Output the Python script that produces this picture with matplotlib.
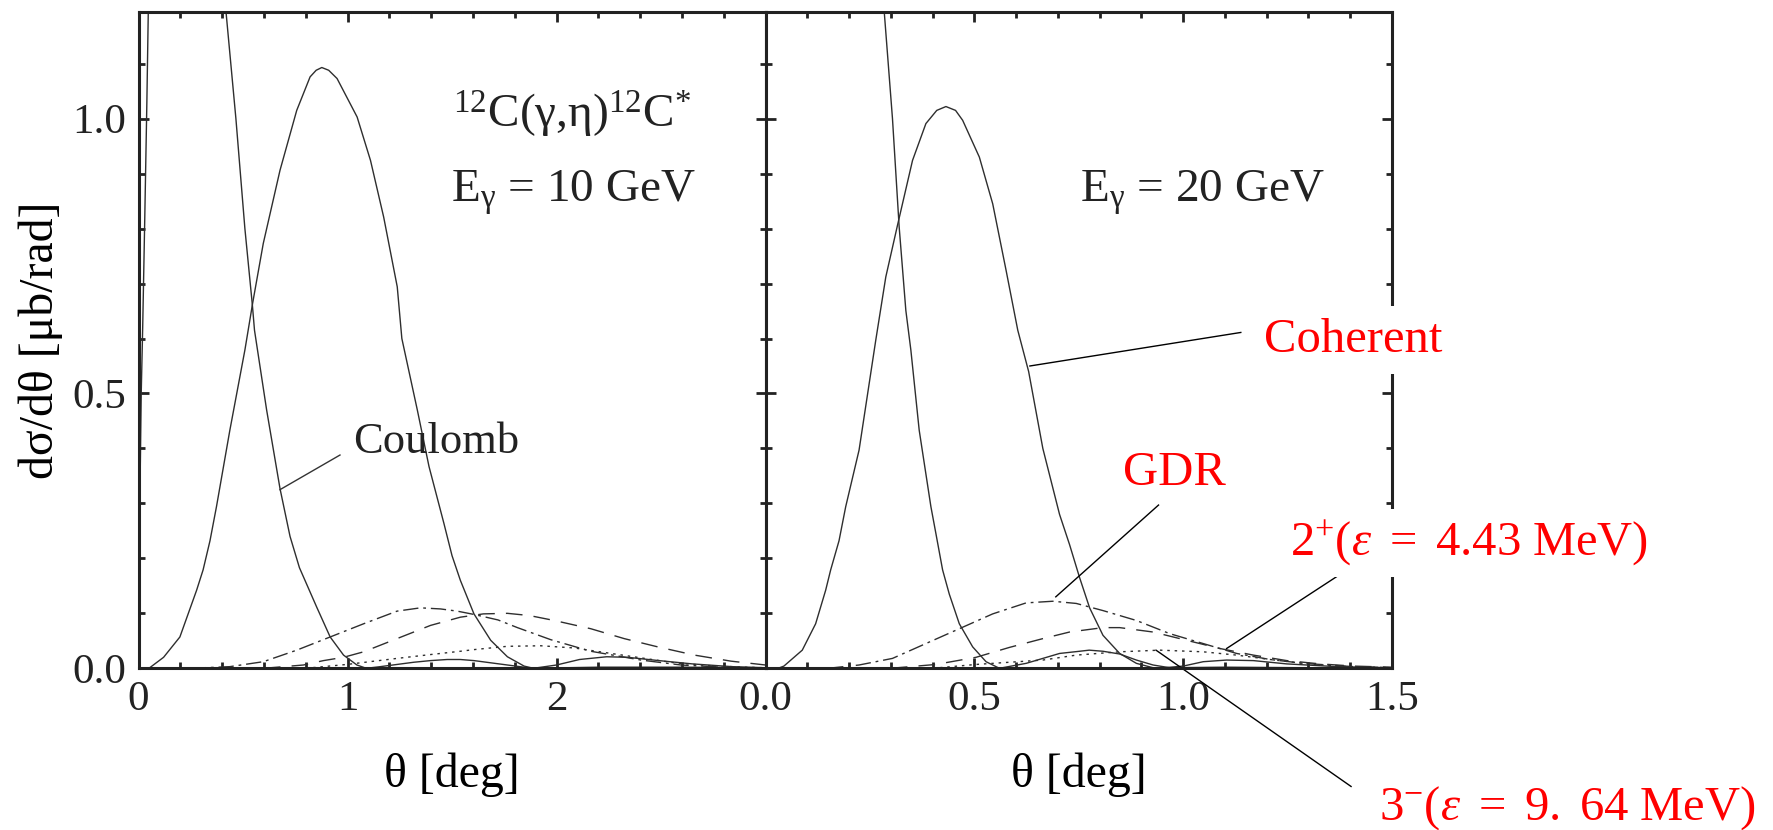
import matplotlib
matplotlib.use("Agg")
import matplotlib.pyplot as plt
from matplotlib.ticker import MultipleLocator, FixedLocator, FixedFormatter

plt.rcParams['font.family'] = ['Liberation Serif', 'DejaVu Serif']
plt.rcParams['mathtext.fontset'] = 'custom'
plt.rcParams['mathtext.rm'] = 'Liberation Serif'
plt.rcParams['mathtext.it'] = 'Liberation Serif:italic'
plt.rcParams['mathtext.bf'] = 'Liberation Serif:bold'

# ---------------- data: E_gamma = 10 GeV (left) ----------------
coh10_t = [0.0, 0.05, 0.12, 0.198, 0.278, 0.309, 0.342, 0.373, 0.437, 0.509, 0.546, 0.597, 0.677,
           0.757, 0.821, 0.85, 0.877, 0.91, 0.95, 1.046, 1.11, 1.173, 1.238, 1.26, 1.334, 1.39, 1.461,
           1.5, 1.54, 1.605, 1.685, 1.765, 1.845, 1.89, 2.0, 2.11, 2.24, 2.34, 2.49, 2.65, 2.84, 3.0]
coh10_v = [0.0, 0.0, 0.02, 0.057, 0.142, 0.179, 0.232, 0.294, 0.433, 0.579, 0.664, 0.773, 0.906,
           1.015, 1.076, 1.088, 1.093, 1.088, 1.073, 1.003, 0.924, 0.821, 0.694, 0.60, 0.47, 0.367, 0.264,
           0.205, 0.16, 0.099, 0.051, 0.021, 0.004, 0.0, 0.006, 0.016, 0.021, 0.02, 0.014, 0.008, 0.003, 0.001]

coul10_t = [0.0, 0.003, 0.008, 0.013, 0.02, 0.03, 0.04, 0.047, 0.055, 0.38, 0.418, 0.466, 0.509, 0.545,
            0.555, 0.613, 0.677, 0.725, 0.77, 0.853, 0.917, 0.981, 1.045, 1.09, 1.157, 1.237, 1.317,
            1.397, 1.477, 1.54, 1.605, 1.685, 1.765, 1.845, 1.88, 2.2, 2.6, 3.0]
coul10_v = [0.0, 0.15, 0.35, 0.5, 0.62, 0.82, 1.03, 1.2, 1.4, 1.36, 1.197, 1.0, 0.8, 0.66,
            0.615, 0.47, 0.327, 0.24, 0.183, 0.111, 0.057, 0.024, 0.006, 0.0, 0.003, 0.007, 0.011,
            0.014, 0.016, 0.016, 0.014, 0.01, 0.006, 0.002, 0.0, 0.002, 0.002, 0.001]

gdr10_t = [0.25, 0.437, 0.597, 0.757, 0.917, 1.077, 1.237, 1.349, 1.445, 1.525, 1.605, 1.72, 1.813,
           1.973, 2.164, 2.404, 2.596, 2.8, 3.0]
gdr10_v = [0.0, 0.003, 0.012, 0.033, 0.057, 0.081, 0.104, 0.11, 0.108, 0.104, 0.098, 0.088, 0.074,
           0.052, 0.031, 0.015, 0.006, 0.002, 0.0]

e2_10_t = [0.6, 0.789, 0.885, 0.981, 1.077, 1.237, 1.397, 1.54, 1.65, 1.765, 1.87, 1.989, 2.164,
           2.324, 2.484, 2.66, 2.835, 3.0]
e2_10_v = [0.0, 0.006, 0.014, 0.02, 0.03, 0.054, 0.078, 0.093, 0.099, 0.1, 0.096, 0.087, 0.072,
           0.054, 0.039, 0.024, 0.013, 0.006]

e3_10_t = [0.8, 0.997, 1.237, 1.397, 1.54, 1.605, 1.765, 1.925, 2.085, 2.244, 2.404, 2.564, 2.724, 2.9, 3.0]
e3_10_v = [0.0, 0.007, 0.018, 0.025, 0.031, 0.034, 0.04, 0.041, 0.037, 0.028, 0.019, 0.01, 0.005, 0.002, 0.001]

# ---------------- data: E_gamma = 20 GeV (right) ----------------
coh20_t = [0.0, 0.03, 0.044, 0.088, 0.12, 0.144, 0.156, 0.176, 0.192, 0.224, 0.264, 0.288, 0.316,
           0.352, 0.384, 0.41, 0.432, 0.455, 0.472, 0.512, 0.544, 0.576, 0.604, 0.63, 0.664, 0.704,
           0.728, 0.752, 0.776, 0.808, 0.848, 0.888, 0.928, 0.94, 1.0, 1.048, 1.104, 1.168, 1.248,
           1.368, 1.5]
coh20_v = [0.0, 0.0, 0.004, 0.033, 0.081, 0.142, 0.179, 0.232, 0.294, 0.397, 0.597, 0.712, 0.806,
           0.924, 0.991, 1.015, 1.022, 1.015, 0.997, 0.93, 0.845, 0.724, 0.615, 0.54, 0.40, 0.28,
           0.225, 0.165, 0.11, 0.06, 0.027, 0.009, 0.001, 0.0, 0.004, 0.012, 0.015, 0.014, 0.008,
           0.003, 0.001]

coul20_t = [0.265, 0.284, 0.304, 0.32, 0.336, 0.348, 0.368, 0.396, 0.408, 0.424, 0.44, 0.464, 0.496,
            0.528, 0.56, 0.624, 0.704, 0.752, 0.775, 0.808, 0.848, 0.888, 0.928, 0.968, 1.1, 1.3, 1.5]
coul20_v = [1.38, 1.197, 1.0, 0.803, 0.651, 0.579, 0.433, 0.294, 0.245, 0.179, 0.135, 0.081, 0.039,
            0.012, 0.0, 0.009, 0.027, 0.031, 0.033, 0.031, 0.026, 0.015, 0.006, 0.001, 0.002, 0.001, 0.0]

gdr20_t = [0.15, 0.224, 0.304, 0.384, 0.464, 0.544, 0.624, 0.688, 0.744, 0.808, 0.888, 0.968, 1.048,
           1.128, 1.208, 1.288, 1.408, 1.5]
gdr20_v = [0.0, 0.006, 0.018, 0.045, 0.072, 0.099, 0.119, 0.122, 0.118, 0.105, 0.087, 0.063, 0.045,
           0.027, 0.016, 0.009, 0.003, 0.001]

e2_20_t = [0.3, 0.408, 0.504, 0.584, 0.664, 0.728, 0.808, 0.848, 0.928, 1.008, 1.088, 1.168, 1.248,
           1.328, 1.408, 1.5]
e2_20_v = [0.0, 0.007, 0.02, 0.038, 0.054, 0.066, 0.074, 0.074, 0.066, 0.051, 0.036, 0.024, 0.014,
           0.008, 0.004, 0.002]

e3_20_t = [0.4, 0.504, 0.584, 0.664, 0.744, 0.848, 0.944, 1.048, 1.128, 1.208, 1.288, 1.368, 1.5]
e3_20_v = [0.0, 0.007, 0.011, 0.015, 0.024, 0.03, 0.033, 0.03, 0.024, 0.016, 0.009, 0.004, 0.001]

ytick_vals = [0.0, 0.5, 1.0]
ytick_labels = ["0.0", "0.5", "1.0"]
xtick10_vals = [0, 1, 2, 3]
xtick10_labels = ["0", "1", "2", ""]
xtick20_vals = [0.0, 0.5, 1.0, 1.5]
xtick20_labels = ["0.0", "0.5", "1.0", "1.5"]

# ---------------- styles ----------------
CURVE = '#2e2e2e'
LW = 1.0
ST_SOLID = '-'
ST_GDR = (0, (11, 3.5, 2, 3.5))
ST_E2 = (0, (12, 8))
ST_E3 = (0, (1.8, 3.5))

fig = plt.figure(figsize=(17.73, 8.30), dpi=100)
axL = fig.add_axes([0.07812, 0.19482, 0.35364, 0.79072])
axR = fig.add_axes([0.43176, 0.19482, 0.35335, 0.79072])

for ax in (axL, axR):
    ax.set_ylim(0, 1.194)
    ax.yaxis.set_major_locator(FixedLocator(ytick_vals))
    ax.yaxis.set_major_formatter(FixedFormatter(ytick_labels))
    ax.yaxis.set_minor_locator(MultipleLocator(0.1))
    ax.tick_params(which='both', direction='in', top=True, right=True, width=2.0,
                   labelsize=31, pad=9, colors='#222222')
    ax.tick_params(which='major', length=7.5)
    ax.tick_params(which='minor', length=4)
    for s in ax.spines.values():
        s.set_linewidth(2.2)
        s.set_color('#222222')

axL.set_xlim(0, 3)
axL.xaxis.set_major_locator(FixedLocator(xtick10_vals))
axL.xaxis.set_major_formatter(FixedFormatter(xtick10_labels))
axL.xaxis.set_minor_locator(MultipleLocator(0.2))

axR.set_xlim(0, 1.5)
axR.xaxis.set_major_locator(FixedLocator(xtick20_vals))
axR.xaxis.set_major_formatter(FixedFormatter(xtick20_labels))
axR.xaxis.set_minor_locator(MultipleLocator(0.1))
axR.tick_params(labelleft=False)

# curves
for ax, sets in ((axL, [(coh10_t, coh10_v, ST_SOLID), (coul10_t, coul10_v, ST_SOLID),
                        (gdr10_t, gdr10_v, ST_GDR), (e2_10_t, e2_10_v, ST_E2), (e3_10_t, e3_10_v, ST_E3)]),
                 (axR, [(coh20_t, coh20_v, ST_SOLID), (coul20_t, coul20_v, ST_SOLID),
                        (gdr20_t, gdr20_v, ST_GDR), (e2_20_t, e2_20_v, ST_E2), (e3_20_t, e3_20_v, ST_E3)])):
    for t, v, st in sets:
        ax.plot(t, v, color=CURVE, lw=LW, linestyle=st, solid_capstyle='butt', solid_joinstyle='round')

# axis labels
axL.set_ylabel('dσ/dθ [μb/rad]', fontsize=34.5)
axL.yaxis.set_label_coords(-0.12, 0.5)
axL.set_xlabel('θ [deg]', fontsize=34.5)
axL.xaxis.set_label_coords(0.5, -0.128)
axR.set_xlabel('θ [deg]', fontsize=34.5)
axR.xaxis.set_label_coords(0.5, -0.128)

# black annotations
axL.text(1.505, 0.984, r'$^{12}$C(γ,η)$^{12}$C$^{*}$', fontsize=34, ha='left', va='baseline', color='#222222')
axL.text(1.495, 0.848, r'E$_{\mathrm{γ}}$ = 10 GeV', fontsize=34, ha='left', va='baseline', color='#222222')
axR.text(0.753, 0.848, r'E$_{\mathrm{γ}}$ = 20 GeV', fontsize=34, ha='left', va='baseline', color='#222222')
axL.text(1.026, 0.391, 'Coulomb', fontsize=32, ha='left', va='baseline', color='#222222')
axL.plot([0.677, 0.964], [0.325, 0.388], color='#333333', lw=1.0)

# red annotations
RED = '#ff0000'
axR.plot([0.633, 1.138], [0.550, 0.611], color='black', lw=1.0, clip_on=False)
axR.text(1.193, 0.576, 'Coherent', fontsize=35, color=RED, ha='left', va='baseline',
         bbox=dict(facecolor='white', edgecolor='none', boxstyle='square,pad=0.25'), clip_on=False)

axR.plot([0.695, 0.941], [0.130, 0.297], color='black', lw=1.0, clip_on=False)
axR.text(0.980, 0.333, 'GDR', fontsize=35, color=RED, ha='center', va='baseline')

axR.plot([1.104, 1.370], [0.036, 0.168], color='black', lw=1.0, clip_on=False)
axR.text(1.256, 0.206, r'$2^{+}(\varepsilon\ =\ 4.43\ \mathrm{MeV})$', fontsize=35, color=RED,
         ha='left', va='baseline', clip_on=False,
         bbox=dict(facecolor='white', edgecolor='none', boxstyle='square,pad=0.2'))

axR.plot([0.935, 1.402], [0.033, -0.215], color='black', lw=1.0, clip_on=False)
axR.text(1.469, -0.276, r'$3^{-}(\varepsilon\ =\ 9.\ 64\ \mathrm{MeV})$', fontsize=35, color=RED,
         ha='left', va='baseline', clip_on=False)

fig.savefig('out.png', dpi=100)
